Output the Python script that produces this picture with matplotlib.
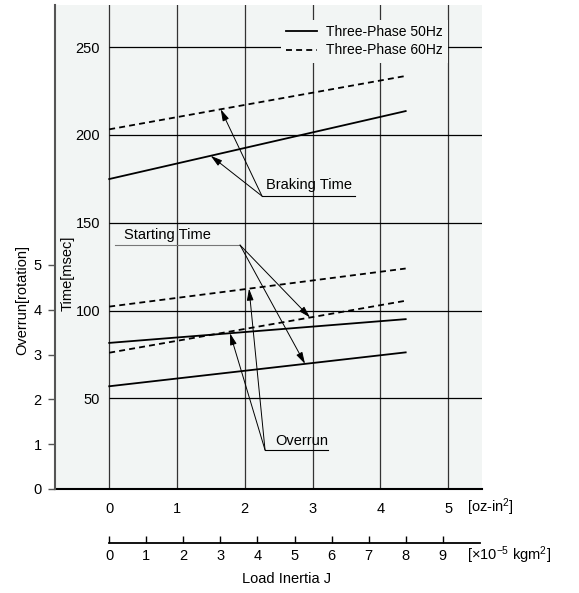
import numpy as np
import matplotlib.pyplot as plt
from matplotlib.lines import Line2D

plt.rcParams['font.family'] = ['Liberation Sans', 'DejaVu Sans']
plt.rcParams['font.size'] = 10.5
plt.rcParams['mathtext.fontset'] = 'custom'
plt.rcParams['mathtext.rm'] = 'Liberation Sans'
plt.rcParams['mathtext.default'] = 'regular'

# load inertia, line end points [x10^-5 kgm^2]
inertia_kgm2 = np.array([0, 8])
KGM2_PER_OZIN2 = 1.829
inertia_ozin2 = inertia_kgm2 / KGM2_PER_OZIN2

# time curves [msec]
braking_50 = [174.9, 213.6]
braking_60 = [203.2, 233.6]
starting_50 = [56.9, 76.2]
starting_60 = [76.0, 105.6]
# overrun curves [rotation]
overrun_50 = [3.26, 3.79]
overrun_60 = [4.07, 4.92]

time_ticks = [50, 100, 150, 200, 250]
overrun_ticks = [0, 1, 2, 3, 4, 5]
ozin2_ticks = [0, 1, 2, 3, 4, 5]
kgm2_ticks = list(range(10))

bg = '#f2f5f4'
grid_c = '#333333'
W, H = 579, 593
xlim = (-0.8, 5.5)

fig = plt.figure(figsize=(W / 100, H / 100), dpi=100)
ax_px = (55, 5, 482, 489)  # left, top, right, bottom in pixels
ax = fig.add_axes([ax_px[0] / W, 1 - ax_px[3] / H,
                   (ax_px[2] - ax_px[0]) / W, (ax_px[3] - ax_px[1]) / H])
ax.set_facecolor(bg)
ax.set_xlim(*xlim)
ax.set_ylim(-1.6, 274)

# grid
for x in ozin2_ticks:
    ax.axvline(x, color=grid_c, lw=0.9, zorder=1)
ax.hlines(time_ticks, 0, xlim[1], color='black', lw=0.9, zorder=1)

solid = dict(color='black', lw=1.3)
dashed = dict(color='black', lw=1.3, ls=(0, (3.3, 2.3)))
ax.plot(inertia_ozin2, braking_50, **solid, zorder=3)
ax.plot(inertia_ozin2, braking_60, **dashed, zorder=3)
ax.plot(inertia_ozin2, starting_50, **solid, zorder=3)
ax.plot(inertia_ozin2, starting_60, **dashed, zorder=3)

# time axis labels sit inside the plot, left of x=0
ax.spines['left'].set_position(('data', 0))
ax.spines['left'].set_visible(False)
ax.spines['top'].set_visible(False)
ax.spines['right'].set_visible(False)
ax.spines['bottom'].set_linewidth(1.5)
ax.set_yticks(time_ticks)
ax.tick_params(axis='y', length=0, pad=6.5)
ax.set_xticks(ozin2_ticks)
ax.tick_params(axis='x', length=0, pad=9.5)

# overrun axis on the left spine
ax_r = ax.twinx()
ax_r.set_ylim(0, 10.8)
ax_r.set_xlim(*xlim)
ax_r.plot(inertia_ozin2, overrun_50, **solid, zorder=3)
ax_r.plot(inertia_ozin2, overrun_60, **dashed, zorder=3)
ax_r.yaxis.set_ticks_position('left')
for s in ['top', 'right', 'bottom']:
    ax_r.spines[s].set_visible(False)
ax_r.spines['left'].set_visible(True)
ax_r.spines['left'].set_color('#555555')
ax_r.spines['left'].set_linewidth(1.5)
ax_r.set_yticks(overrun_ticks)
ax_r.tick_params(axis='y', length=5, width=1, pad=4.5, color='#555555')

# legend
handles = [Line2D([], [], **solid), Line2D([], [], **dashed)]
leg = ax.legend(handles, ['Three-Phase 50Hz', 'Three-Phase 60Hz'],
                loc='upper right', bbox_to_anchor=(448 / W, 1 - 19.5 / H),
                bbox_transform=fig.transFigure, borderaxespad=0,
                fontsize=10, handlelength=2.2, handletextpad=0.65,
                labelspacing=0.32, borderpad=0.39, fancybox=False,
                facecolor=bg, edgecolor='none', framealpha=1)
leg.set_zorder(5)

# callouts
arrow = dict(arrowstyle='-|>,head_length=0.7,head_width=0.2', color='black',
             lw=0.7, shrinkA=0, shrinkB=0, mutation_scale=10)


def callout(axis, label, origin, line_end, text_pos, targets, line_color='black'):
    axis.plot([origin[0], line_end], [origin[1], origin[1]], color=line_color, lw=0.8)
    axis.text(text_pos[0], text_pos[1], label, va='center', ha='left', fontsize=10.5)
    for tx, series in targets:
        ty = np.interp(tx, inertia_ozin2, series)
        axis.annotate('', xy=(tx, ty), xytext=origin, arrowprops=arrow)


callout(ax, 'Braking Time', (2.254, 165.2), 3.626, (2.313, 171.5),
        [(1.645, braking_60), (1.497, braking_50)])
callout(ax, 'Starting Time', (1.93, 137.3), 0.086, (0.218, 143.0),
        [(2.963, starting_60), (2.889, starting_50)], line_color='#777777')
callout(ax_r, 'Overrun', (2.299, 0.87), 3.228, (2.446, 1.07),
        [(1.782, overrun_50), (2.063, overrun_60)])

# axis titles
fig.text(22 / W, 1 - 300 / H, 'Overrun[rotation]', rotation=90, ha='center', va='center')
fig.text(67.5 / W, 1 - 273 / H, 'Time[msec]', rotation=90, ha='center', va='center')
fig.text(467 / W, 1 - 507.5 / H, '[oz-in$^2$]', ha='left', va='center')

# second inertia scale in kgm^2
px_per_unit = (ax_px[2] - ax_px[0]) / (xlim[1] - xlim[0])
x0_px = ax_px[0] - xlim[0] * px_per_unit
kg_w_px = 10 / KGM2_PER_OZIN2 * px_per_unit
ax_k = fig.add_axes([x0_px / W, 1 - 543.3 / H, kg_w_px / W, 1 / H])
ax_k.set_facecolor('none')
ax_k.set_xlim(0, 10)
ax_k.set_yticks([])
for s in ['top', 'left', 'right']:
    ax_k.spines[s].set_visible(False)
ax_k.spines['bottom'].set_linewidth(1.3)
ax_k.set_xticks(kgm2_ticks)
ax_k.tick_params(axis='x', direction='in', length=4.7, width=1, pad=4)
fig.text(467 / W, 1 - 555 / H, r'[$\times$10$^{-5}$ kgm$^2$]', ha='left', va='center')
fig.text(287 / W, 1 - 579 / H, 'Load Inertia J', ha='center', va='center')

fig.savefig('out.png', dpi=100)
